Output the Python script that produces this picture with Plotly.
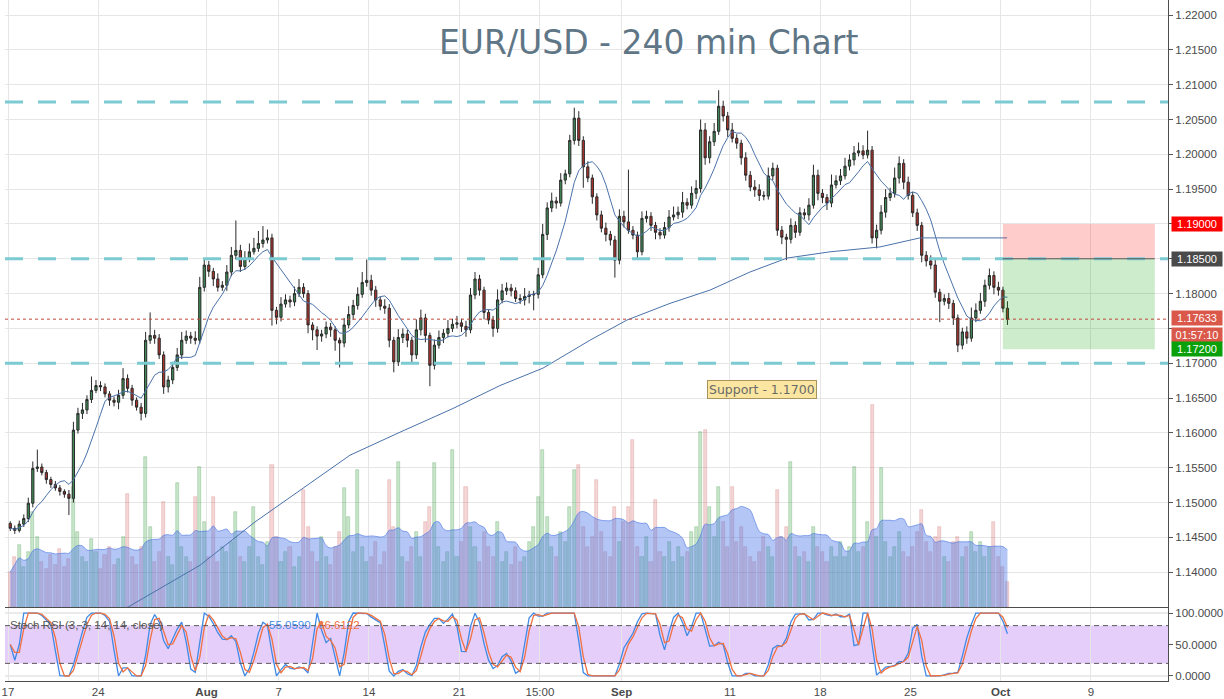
import numpy as np
import pandas as pd
import plotly.graph_objects as go

# ---------------- data (6h bars, 4 per trading day) ----------------
first_open = 1.1470
closes = [
    1.1463, 1.1460, 1.1469, 1.1477, 1.1499, 1.1549, 1.1551, 1.1543, 1.1533, 1.1526,
    1.1521, 1.1516, 1.1512, 1.1506, 1.1604, 1.1628, 1.1633, 1.1648, 1.1661, 1.1668,
    1.1666, 1.1656, 1.1647, 1.1644, 1.1654, 1.1678, 1.1664, 1.1647, 1.1637, 1.1628,
    1.1733, 1.1740, 1.1736, 1.1712, 1.1666, 1.1676, 1.1694, 1.1712, 1.1733, 1.1739,
    1.1736, 1.1733, 1.1809, 1.1841, 1.1832, 1.1821, 1.1809, 1.1812, 1.1831, 1.1855,
    1.1862, 1.1839, 1.1851, 1.1860, 1.1865, 1.1872, 1.1877, 1.1880, 1.1776, 1.1766,
    1.1785, 1.1791, 1.1788, 1.1800, 1.1809, 1.1800, 1.1755, 1.1748, 1.1739, 1.1742,
    1.1752, 1.1748, 1.1733, 1.1729, 1.1755, 1.1770, 1.1783, 1.1799, 1.1816, 1.1819,
    1.1805, 1.1791, 1.1782, 1.1779, 1.1733, 1.1702, 1.1737, 1.1742, 1.1733, 1.1712,
    1.1748, 1.1765, 1.1740, 1.1697, 1.1726, 1.1737, 1.1743, 1.1750, 1.1756, 1.1758,
    1.1753, 1.1748, 1.1798, 1.1821, 1.1805, 1.1773, 1.1762, 1.1750, 1.1791, 1.1804,
    1.1808, 1.1804, 1.1793, 1.1791, 1.1796, 1.1798, 1.1799, 1.1827, 1.1885, 1.1923,
    1.1933, 1.1930, 1.1963, 1.1972, 1.2020, 1.2052, 1.2020, 1.1982, 1.1966, 1.1939,
    1.1913, 1.1894, 1.1885, 1.1877, 1.1848, 1.1911, 1.1903, 1.1891, 1.1884, 1.1860,
    1.1908, 1.1911, 1.1898, 1.1888, 1.1884, 1.1895, 1.1910, 1.1913, 1.1917, 1.1931,
    1.1927, 1.1944, 1.1951, 1.2035, 1.1995, 1.2018, 1.2033, 1.2069, 1.2055, 1.2035,
    1.2023, 1.2016, 1.1995, 1.1970, 1.1953, 1.1949, 1.1941, 1.1940, 1.1969, 1.1980,
    1.1891, 1.1881, 1.1878, 1.1898, 1.1888, 1.1916, 1.1913, 1.1927, 1.1970, 1.1944,
    1.1938, 1.1930, 1.1956, 1.1962, 1.1969, 1.1983, 1.1992, 1.2002, 1.2005, 1.1999,
    1.2006, 1.1880, 1.1891, 1.1917, 1.1938, 1.1944, 1.1966, 1.1987, 1.1960, 1.1941,
    1.1916, 1.1898, 1.1855, 1.1847, 1.1841, 1.1802, 1.1789, 1.1793, 1.1786, 1.1765,
    1.1726, 1.1745, 1.1736, 1.1765, 1.1776, 1.1789, 1.1812, 1.1826, 1.1809, 1.1805,
    1.1779, 1.1763,
]
upper_wick_pips = [
    3, 4, 5, 6, 8, 10, 25, 5, 4, 4,
    5, 4, 3, 6, 12, 8, 10, 6, 20, 8,
    6, 5, 4, 5, 8, 15, 6, 5, 4, 6,
    12, 33, 8, 6, 5, 6, 8, 10, 12, 8,
    6, 10, 15, 8, 6, 5, 8, 6, 10, 12,
    43, 8, 10, 12, 15, 18, 20, 12, 6, 5,
    10, 8, 6, 10, 12, 6, 5, 4, 5, 6,
    8, 6, 5, 4, 10, 12, 8, 10, 15, 30,
    8, 6, 5, 10, 6, 5, 12, 8, 6, 5,
    15, 12, 6, 4, 8, 10, 6, 12, 8, 10,
    6, 8, 10, 10, 6, 5, 4, 6, 15, 10,
    8, 6, 5, 6, 12, 6, 5, 10, 15, 8,
    12, 6, 10, 6, 8, 15, 10, 6, 8, 5,
    5, 6, 8, 5, 6, 10, 8, 75, 6, 5,
    10, 8, 6, 5, 6, 8, 10, 12, 8, 15,
    6, 10, 12, 15, 10, 8, 12, 23, 8, 6,
    10, 6, 5, 8, 6, 10, 8, 6, 12, 8,
    5, 6, 5, 10, 6, 8, 6, 10, 15, 8,
    6, 5, 15, 8, 10, 12, 8, 10, 12, 8,
    28, 6, 8, 10, 12, 8, 15, 10, 6, 8,
    5, 6, 5, 6, 8, 10, 5, 6, 8, 5,
    5, 6, 8, 15, 10, 12, 8, 10, 6, 8,
    5, 10,
]
lower_wick_pips = [
    4, 5, 3, 4, 5, 6, 5, 4, 6, 5,
    4, 6, 5, 24, 6, 5, 8, 6, 5, 4,
    6, 5, 8, 6, 10, 5, 6, 8, 5, 10,
    6, 5, 8, 6, 10, 8, 6, 5, 6, 5,
    8, 6, 5, 6, 8, 10, 6, 5, 8, 6,
    6, 8, 5, 6, 4, 5, 6, 5, 22, 10,
    6, 5, 8, 6, 5, 6, 12, 15, 20, 8,
    6, 10, 15, 35, 6, 5, 8, 6, 5, 6,
    8, 10, 6, 8, 10, 15, 6, 8, 10, 12,
    6, 8, 10, 30, 6, 5, 8, 6, 5, 6,
    8, 10, 5, 6, 8, 10, 6, 12, 6, 5,
    6, 8, 5, 6, 8, 10, 22, 6, 5, 8,
    6, 8, 5, 6, 5, 6, 8, 30, 6, 10,
    8, 6, 10, 8, 25, 6, 8, 5, 6, 10,
    5, 6, 8, 10, 6, 5, 6, 5, 6, 8,
    6, 5, 8, 6, 10, 8, 6, 5, 8, 10,
    6, 8, 10, 8, 6, 10, 8, 6, 5, 6,
    8, 10, 30, 6, 8, 5, 6, 8, 5, 10,
    8, 10, 6, 5, 6, 5, 6, 8, 5, 6,
    5, 8, 15, 6, 8, 5, 6, 8, 10, 6,
    6, 8, 10, 8, 6, 8, 30, 6, 8, 10,
    10, 6, 8, 5, 6, 5, 8, 6, 10, 8,
    6, 8,
]
volumes_k = [
    35, 50, 62, 40, 55, 95, 70, 45, 38, 52,
    42, 58, 40, 48, 120, 75, 50, 45, 68, 55,
    38, 52, 60, 42, 48, 70, 113, 50, 42, 60,
    150, 80, 45, 55, 105, 50, 42, 124, 60, 50,
    45, 110, 140, 85, 50, 110, 45, 60, 55, 65,
    95, 50, 45, 60, 100, 50, 42, 65, 142, 70,
    45, 55, 60, 40, 50, 117, 80, 55, 45, 70,
    50, 42, 60, 75, 119, 90, 55, 137, 60, 45,
    50, 65, 42, 55, 127, 80, 145, 50, 45, 60,
    75, 50, 85, 100, 144, 60, 45, 55, 157, 50,
    65, 120, 80, 60, 45, 75, 60, 50, 85, 45,
    55, 42, 60, 45, 50, 65, 80, 110, 157, 90,
    60, 50, 75, 65, 100, 137, 142, 80, 60, 70,
    127, 75, 55, 50, 100, 65, 85, 100, 167, 60,
    50, 70, 45, 107, 55, 50, 65, 45, 60, 50,
    55, 75, 80, 175, 177, 100, 70, 120, 85, 60,
    120, 65, 80, 60, 50, 45, 55, 70, 60, 50,
    117, 70, 80, 145, 60, 50, 55, 45, 80, 60,
    55, 45, 60, 50, 65, 50, 60, 140, 55, 60,
    85, 202, 70, 139, 65, 50, 60, 75, 55, 50,
    60, 75, 97, 65, 55, 70, 80, 50, 45, 65,
    70, 50, 60, 75, 55, 65, 50, 60, 85, 50,
    40, 25,
]
bars_per_day = 4

# 200-period moving average, read as points (trading-day offset, price)
sma200_day = [6.59, 10.64, 13.68, 16.18, 18.95, 21.72, 24.65, 27.26, 29.64, 32.24,
              34.29, 36.68, 38.89, 41.11, 43.16, 45.54, 48.31, 50.53, 52.74, 55.35]
sma200_val = [1.1349, 1.1410, 1.1472, 1.1518, 1.1568, 1.1601, 1.1635, 1.1668, 1.1693, 1.1733,
              1.1762, 1.1786, 1.1805, 1.1831, 1.1851, 1.1860, 1.1867, 1.1880, 1.1880, 1.1880]

tick_days = [0, 5, 11, 15, 20, 25, 29.47, 34, 40, 45, 50, 55, 60]
tick_text = ["17", "24", "<b>Aug</b>", "7", "14", "21", "15:00", "<b>Sep</b>",
             "11", "18", "25", "<b>Oct</b>", "9"]

price_ticks = [1.14, 1.145, 1.15, 1.155, 1.16, 1.165, 1.17, 1.175, 1.18, 1.185,
               1.19, 1.195, 1.20, 1.205, 1.21, 1.215, 1.22]
# the 1.17500 label is hidden behind the countdown badge in the reference
price_tick_text = ["" if abs(v - 1.175) < 1e-9 else "%.5f" % v for v in price_ticks]
levels = [1.2075, 1.1850, 1.1700]
current_price = 1.17633
stop_price = 1.1900
entry_price = 1.1850
target_price = 1.1720
countdown = "01:57:10"
stoch_k_last = "55.0590"
stoch_d_last = "66.6122"

# ---------------- derived series ----------------
n = len(closes)
x = (np.arange(n) + 0.5) / bars_per_day
opens = [first_open] + closes[:-1]
highs = [max(o, c) + u * 0.0001 for o, c, u in zip(opens, closes, upper_wick_pips)]
lows = [min(o, c) - l * 0.0001 for o, c, l in zip(opens, closes, lower_wick_pips)]

cs = pd.Series(closes)
sma_fast = cs.rolling(8, min_periods=1).mean()

d = cs.diff().fillna(0)
gain = d.clip(lower=0).rolling(9, min_periods=1).mean()
loss = (-d.clip(upper=0)).rolling(9, min_periods=1).mean()
rsi = (100 * gain / (gain + loss)).fillna(50)
lo = rsi.rolling(9, min_periods=1).min()
hi = rsi.rolling(9, min_periods=1).max()
st = (100 * (rsi - lo) / (hi - lo)).fillna(50)
k_line = st.rolling(2, min_periods=1).mean()
d_line = k_line.rolling(2, min_periods=1).mean()

vol = pd.Series(volumes_k)
vol_ma = vol.rolling(12, min_periods=1).mean()
vol_colors = ["rgba(60,165,70,0.28)" if c >= o else "rgba(215,90,90,0.25)"
              for o, c in zip(opens, closes)]
vol_line = ["rgba(60,150,70,0.45)" if c >= o else "rgba(200,90,90,0.4)"
            for o, c in zip(opens, closes)]

# ---------------- figure ----------------
fig = go.Figure()

fig.add_trace(go.Bar(x=x, y=volumes_k, width=0.17, marker=dict(color=vol_colors,
              line=dict(color=vol_line, width=0.6)), xaxis="x", yaxis="y",
              showlegend=False, hoverinfo="skip"))
fig.add_trace(go.Scatter(x=x, y=vol_ma, mode="lines", line=dict(color="rgba(70,115,225,0.6)",
              width=1, shape="spline"), fill="tozeroy", fillcolor="rgba(75,120,230,0.42)",
              xaxis="x", yaxis="y", showlegend=False, hoverinfo="skip"))

fig.add_trace(go.Candlestick(
    x=x, open=opens, high=highs, low=lows, close=closes, xaxis="x", yaxis="y3",
    increasing=dict(fillcolor="#3f8c57", line=dict(color="#2a2a2a", width=1)),
    decreasing=dict(fillcolor="#b0322c", line=dict(color="#2a2a2a", width=1)),
    whiskerwidth=0, showlegend=False))
fig.add_trace(go.Scatter(x=x, y=sma_fast, mode="lines", line=dict(color="#4a72aa", width=1),
              xaxis="x", yaxis="y3", showlegend=False, hoverinfo="skip"))
fig.add_trace(go.Scatter(x=sma200_day, y=sma200_val, mode="lines",
              line=dict(color="#4a72aa", width=1), xaxis="x", yaxis="y3",
              showlegend=False, hoverinfo="skip"))

fig.add_trace(go.Scatter(x=x, y=k_line, mode="lines", line=dict(color="#3f8ae6", width=1.3),
              xaxis="x2", yaxis="y2", showlegend=False, hoverinfo="skip"))
fig.add_trace(go.Scatter(x=x, y=d_line, mode="lines", line=dict(color="#f07040", width=1.3),
              xaxis="x2", yaxis="y2", showlegend=False, hoverinfo="skip"))

shapes = []
# stoch panel band and reference lines
shapes.append(dict(type="rect", xref="x2 domain", yref="y2", x0=0, x1=1, y0=20, y1=80,
                   fillcolor="rgba(150,50,240,0.24)", line=dict(width=0), layer="below"))
for lv in (0, 100):
    shapes.append(dict(type="line", xref="x2 domain", yref="y2", x0=0, x1=1, y0=lv, y1=lv,
                       line=dict(color="#d6d6d6", width=1), layer="below"))
for lv in (20, 80):
    shapes.append(dict(type="line", xref="x2 domain", yref="y2", x0=0, x1=1, y0=lv, y1=lv,
                       line=dict(color="#5a5a5a", width=1, dash="5px,4px"), layer="above"))
# trade boxes
box_x0 = 55.12
box_x1 = 63.54
shapes.append(dict(type="rect", xref="x", yref="y3", x0=box_x0, x1=box_x1, y0=entry_price,
                   y1=stop_price, fillcolor="rgba(255,0,0,0.2)", line=dict(width=0)))
shapes.append(dict(type="rect", xref="x", yref="y3", x0=box_x0, x1=box_x1, y0=target_price,
                   y1=entry_price, fillcolor="rgba(0,160,0,0.2)", line=dict(width=0)))
# horizontal levels
for lv in levels:
    shapes.append(dict(type="line", xref="x domain", yref="y3", x0=0, x1=1, y0=lv, y1=lv,
                       line=dict(color="#7ccad2", width=3, dash="18px,15px"), layer="above"))
shapes.append(dict(type="line", xref="x", yref="y3", x0=box_x0, x1=box_x1, y0=entry_price,
                   y1=entry_price, line=dict(color="#555555", width=1)))
shapes.append(dict(type="line", xref="x domain", yref="y3", x0=0, x1=1, y0=current_price,
                   y1=current_price, line=dict(color="#c0483a", width=1, dash="dot")))

annotations = [
    dict(text="EUR/USD - 240 min Chart", xref="paper", yref="paper", x=0.5537, y=0.9369,
         xanchor="center", yanchor="middle", showarrow=False,
         font=dict(family="DejaVu Sans", size=33, color="#5f7686")),
    dict(text="Support - 1.1700", xref="x", yref="y3", x=41.8, y=1.1662, showarrow=False,
         xanchor="center", yanchor="middle", bgcolor="#fae6a0", bordercolor="#a8945c",
         borderwidth=1, borderpad=1, font=dict(family="DejaVu Sans", size=12.5, color="#6a6a6a")),
    dict(text="Stoch RSI (3, 3, 14, 14, close)", xref="paper", yref="paper", x=0.0026,
         y=0.0822, xanchor="left", yanchor="middle", showarrow=False,
         font=dict(family="Liberation Sans", size=11.5, color="#555555")),
    dict(text=stoch_k_last, xref="paper", yref="paper", x=0.2253, y=0.0822, xanchor="left",
         yanchor="middle", showarrow=False,
         font=dict(family="Liberation Sans", size=11.5, color="#3f8ae6")),
    dict(text=stoch_d_last, xref="paper", yref="paper", x=0.2674, y=0.0822, xanchor="left",
         yanchor="middle", showarrow=False,
         font=dict(family="Liberation Sans", size=11.5, color="#f07040")),
]
axis_boxes = [
    (stop_price, "%.5f" % stop_price, "#ff0000", 0),
    (entry_price, "%.5f" % entry_price, "#4a4a4a", 0),
    (current_price, "%.5f" % current_price, "#d9584a", 1),
    (current_price, countdown, "#d9584a", -16),
    (target_price, "%.5f" % target_price, "#0aa00a", 0),
]
for yv, txt, col, ysh in axis_boxes:
    annotations.append(dict(text=txt, xref="paper", yref="y3", x=1, y=yv, xanchor="left",
                            yanchor="middle", xshift=3, yshift=ysh, showarrow=False,
                            bgcolor=col, width=50, height=14, align="center", borderpad=0,
                            font=dict(family="Liberation Sans", size=11, color="white")))

main_dom = [1 - 607 / 681, 1]
stoch_dom = [0, 73 / 681]

fig.update_layout(
    width=1224, height=699,
    margin=dict(l=5, r=56, t=0, b=18),
    paper_bgcolor="white", plot_bgcolor="white",
    showlegend=False, bargap=0,
    shapes=shapes, annotations=annotations,
    xaxis=dict(domain=[0, 1], anchor="y", range=[-0.166, 64.27], tickvals=tick_days,
               showticklabels=False, showgrid=True, gridcolor="#e6e6e6", zeroline=False,
               showline=True, linecolor="#4d4d4d", linewidth=1, ticks="",
               rangeslider=dict(visible=False)),
    xaxis2=dict(domain=[0, 1], anchor="y2", matches="x", tickvals=tick_days,
                ticktext=tick_text, showgrid=True, gridcolor="#e6e6e6", zeroline=False,
                showline=True, linecolor="#4d4d4d", linewidth=1, ticks="",
                tickfont=dict(family="Liberation Sans", size=11.5, color="#4a4a4a"),
                rangeslider=dict(visible=False)),
    yaxis=dict(domain=main_dom, anchor="x", range=[0, 607], visible=False, fixedrange=True),
    yaxis3=dict(overlaying="y", anchor="x", side="right", range=[1.135, 1.22216],
                tickvals=price_ticks, ticktext=price_tick_text, ticks="outside", ticklen=4,
                tickcolor="#555555", showline=True, linecolor="#4d4d4d", linewidth=1,
                showgrid=True, gridcolor="#e6e6e6", zeroline=False,
                tickfont=dict(family="Liberation Sans", size=11.5, color="#4a4a4a")),
    yaxis2=dict(domain=stoch_dom, anchor="x2", side="right", range=[-8, 108],
                tickvals=[0, 50, 100], ticktext=["0.0000", "50.0000", "100.0000"],
                ticks="outside", ticklen=4, tickcolor="#555555", showline=True,
                linecolor="#4d4d4d", linewidth=1, showgrid=False, zeroline=False,
                tickfont=dict(family="Liberation Sans", size=11.5, color="#4a4a4a")),
)

fig.write_html("out.html")
